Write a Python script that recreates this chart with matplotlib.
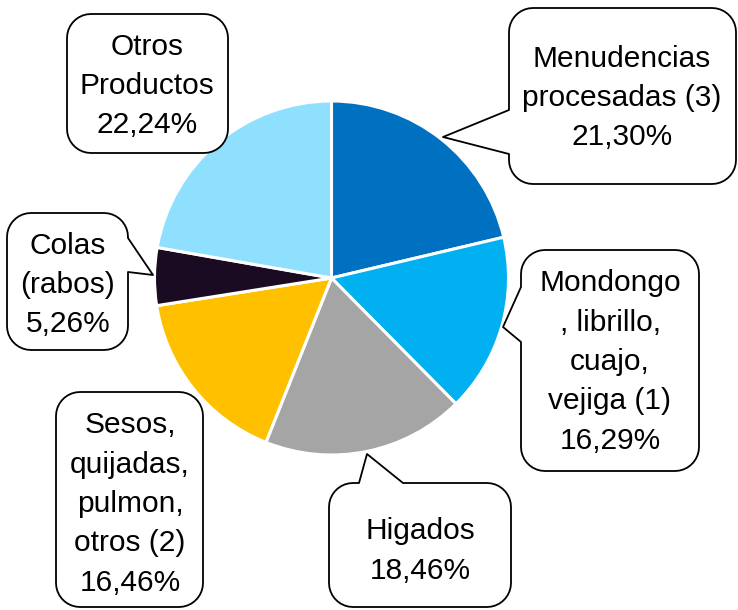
import numpy as np
import matplotlib.pyplot as plt
from matplotlib.patches import Polygon

plt.rcParams['font.family'] = ['Liberation Sans', 'DejaVu Sans']

# data
labels = ['Menudencias\nprocesadas (3)', 'Mondongo\n, librillo,\ncuajo,\nvejiga (1)',
          'Higados', 'Sesos,\nquijadas,\npulmon,\notros (2)', 'Colas\n(rabos)', 'Otros\nProductos']
values = [21.30, 16.29, 18.46, 16.46, 5.26, 22.24]
colors = ['#0070C0', '#00B0F0', '#A5A5A5', '#FFC000', '#1B0B22', '#8FE0FF']

W, H = 738, 610
fig = plt.figure(figsize=(W / 100, H / 100), dpi=100)
ax = fig.add_axes([0, 0, 1, 1])


def fy(y):
    # pixel row (from top) -> data y
    return H - y


ax.pie(values, colors=colors, startangle=90, counterclock=False,
       radius=177, center=(331.5, fy(278)),
       wedgeprops=dict(edgecolor='white', linewidth=2.2))


def arc(cx, cy, r, a0, a1, n=10):
    t = np.radians(np.linspace(a0, a1, n))
    return [(cx + r * np.cos(t_), cy + r * np.sin(t_)) for t_ in t]


def callout(x0, y0, x1, y1, r=24, ptr=None):
    # rounded box in pixel coords (y down), optional pointer (edge, b0, b1, apex)
    pts = []
    side = ptr[0] if ptr else None
    # top edge, left -> right
    pts.append((x0 + r, y0))
    if side == 'top':
        pts += [(ptr[1], y0), ptr[3], (ptr[2], y0)]
    pts += arc(x1 - r, y0 + r, r, -90, 0)
    if side == 'right':
        pts += [(x1, ptr[1]), ptr[3], (x1, ptr[2])]
    pts += arc(x1 - r, y1 - r, r, 0, 90)
    pts += arc(x0 + r, y1 - r, r, 90, 180)
    if side == 'left':
        pts += [(x0, ptr[1]), ptr[3], (x0, ptr[2])]
    pts += arc(x0 + r, y0 + r, r, 180, 270)
    pts = [(x, fy(y)) for x, y in pts]
    ax.add_patch(Polygon(pts, closed=True, facecolor='white', edgecolor='black',
                         linewidth=1.3, joinstyle='round', zorder=3))


# boxes: (x0, y0, x1, y1, pointer, text center)
boxes = [
    (509, 8, 736, 184, ('left', 154, 110, (443, 137)), (622, 98)),
    (521, 250, 699, 471, ('left', 342, 287, (503, 327)), (610, 362)),
    (329, 483, 511, 607, ('top', 359, 403, (367, 454)), (420, 551)),
    (56, 392, 203, 607, None, (130, 504)),
    (7, 213, 128, 350, ('right', 238, 272, (153, 275)), (68, 285)),
    (67, 14, 228, 153, None, (147, 86)),
]

for (x0, y0, x1, y1, ptr, tc), lab, v in zip(boxes, labels, values):
    callout(x0, y0, x1, y1, ptr=ptr)
    txt = lab + '\n' + f'{v:.2f}'.replace('.', ',') + '%'
    ax.text(tc[0], fy(tc[1]), txt, ha='center', va='center', fontsize=21.5,
            linespacing=1.52, color='black', zorder=4)

ax.set_xlim(0, W)
ax.set_ylim(0, H)
ax.set_aspect('auto')
ax.axis('off')

fig.savefig('out.png', dpi=100)
